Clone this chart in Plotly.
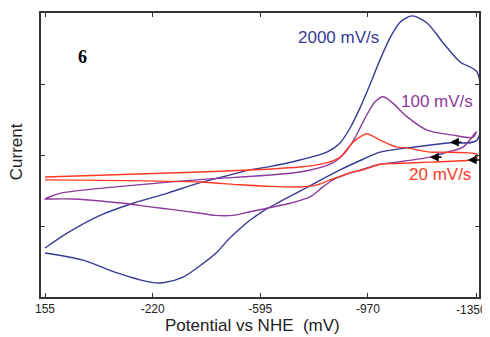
import plotly.graph_objects as go

# ---- data (potential in mV vs NHE, current in arbitrary units) ----
blue_x = [155, 78, -37, -152, -270, -385, -500, -559, -618, -733, -827, -873, -908, -942, -977, -1012, -1047, -1082, -1124, -1176, -1232, -1291, -1350,
          -1350, -1246, -1127, -1012, -953, -873, -793, -733, -653, -605, -559, -524, -479, -444, -385, -326, -256, -211, -96, 23, 155]
blue_y = [-1.31, -1.10, -0.85, -0.68, -0.54, -0.39, -0.27, -0.21, -0.17, -0.07, 0.04, 0.17, 0.38, 0.66, 0.99, 1.34, 1.65, 1.87, 1.96, 1.86, 1.58, 1.31, 1.17,
          0.21, 0.17, 0.11, 0.04, -0.06, -0.21, -0.38, -0.51, -0.68, -0.79, -0.92, -1.04, -1.21, -1.37, -1.56, -1.72, -1.80, -1.79, -1.66, -1.48, -1.38]

purple_x = [155, 103, -61, -375, -733, -848, -890, -925, -960, -995, -1023, -1057, -1106, -1176, -1266, -1336, -1348,
            -1301, -1246, -1186, -1071, -1012, -953, -890, -848, -810, -768, -698, -618, -559, -500, -437, -385, -291, -211, -117, 57, 148, 155]
purple_y = [-0.62, -0.54, -0.46, -0.35, -0.24, -0.11, 0.03, 0.24, 0.52, 0.75, 0.82, 0.73, 0.54, 0.35, 0.28, 0.25, 0.33,
            0.11, 0.04, -0.03, -0.10, -0.13, -0.20, -0.28, -0.35, -0.46, -0.59, -0.68, -0.75, -0.80, -0.85, -0.85, -0.82, -0.77, -0.73, -0.68, -0.62, -0.62, -0.62]

red_x = [155, -385, -618, -733, -827, -873, -918, -953, -967, -1012, -1071, -1106, -1186, -1221, -1350,
         -1350, -1326, -1186, -1071, -1012, -953, -908, -873, -838, -793, -733, -618, -524, -385, 155]
red_y = [-0.31, -0.24, -0.20, -0.17, -0.11, -0.03, 0.18, 0.28, 0.30, 0.21, 0.11, 0.10, 0.04, 0.04, 0.01,
         -0.04, -0.07, -0.10, -0.12, -0.13, -0.21, -0.25, -0.30, -0.35, -0.42, -0.45, -0.44, -0.42, -0.38, -0.35]

x_ticks = [155, -220, -595, -970, -1350]
x_tick_labels = ["155", "-220", "-595", "-970", "-1350"]
y_ticks = [-2, -1, 0, 1, 2]

scan_labels = ["2000 mV/s", "100 mV/s", "20 mV/s"]
label_x = [-869, -1211, -1221]
label_y = [1.66, 0.76, -0.27]

arrow_x = [-1256, -1186, -1318]
arrow_y = [0.18, -0.03, -0.07]

colors = ["#373b93", "#8b3b9b", "#ff3b26"]

fig = go.Figure()
for xs, ys, c in [(blue_x, blue_y, colors[0]), (purple_x, purple_y, colors[1]), (red_x, red_y, colors[2])]:
    fig.add_trace(go.Scatter(x=xs, y=ys, mode="lines", line=dict(color=c, width=1.4, shape="spline", smoothing=0.8),
                             showlegend=False, hoverinfo="skip"))

for t, lx, ly, c in zip(scan_labels, label_x, label_y, colors):
    fig.add_annotation(x=lx, y=ly, text=t, showarrow=False,
                       font=dict(family="Liberation Sans, Arial", size=17, color=c))

for ax_, ay_ in zip(arrow_x, arrow_y):
    fig.add_annotation(x=ax_, y=ay_, ax=13, ay=0, text="", showarrow=True,
                       arrowhead=2, arrowsize=1.1, arrowwidth=1.6, arrowcolor="black")

fig.add_annotation(x=23, y=1.38, text="<b>6</b>", showarrow=False,
                   font=dict(family="Liberation Serif, Times New Roman", size=18, color="black"))

# the last tick label sits a little left of its tick in the original, so it is drawn as an annotation
fig.add_annotation(x=x_ticks[-1], xref="x", yref="paper", y=0, text=x_tick_labels[-1], showarrow=False,
                   xanchor="center", yanchor="middle", xshift=-5, yshift=-13,
                   font=dict(family="Liberation Sans, Arial", size=12, color="#222"))

# axis titles placed as paper annotations
fig.add_annotation(xref="paper", yref="paper", x=0.482, y=-0.102, text="Potential vs NHE  (mV)",
                   showarrow=False, xanchor="center", yanchor="middle",
                   font=dict(family="Liberation Sans, Arial", size=17, color="#222"))
fig.add_annotation(xref="paper", yref="paper", x=-0.057, y=0.51, text="Current", textangle=-90,
                   showarrow=False, xanchor="center", yanchor="middle",
                   font=dict(family="Liberation Sans, Arial", size=17, color="#222"))

# margins compensate for the page's default 8px body margin
fig.update_layout(
    width=490, height=337,
    margin=dict(l=33, r=19, t=5, b=48, autoexpand=False),
    paper_bgcolor="white", plot_bgcolor="white",
    font=dict(family="Liberation Sans, Arial", color="#222"),
)
fig.update_xaxes(range=[169, -1357], autorange=False, tickvals=x_ticks,
                 ticktext=x_tick_labels[:-1] + [""],
                 ticks="inside", ticklen=4, tickcolor="#333", showline=True, linecolor="#333", linewidth=1.5,
                 mirror="ticks", showgrid=False, zeroline=False, tickfont=dict(size=12, color="#222"),
                 automargin=False)
fig.update_yaxes(range=[-2, 2], autorange=False, tickvals=y_ticks, showticklabels=False,
                 ticks="inside", ticklen=4, tickcolor="#333", showline=True, linecolor="#333", linewidth=1.5,
                 mirror="ticks", showgrid=False, zeroline=False, automargin=False)

fig.write_html("out.html")
